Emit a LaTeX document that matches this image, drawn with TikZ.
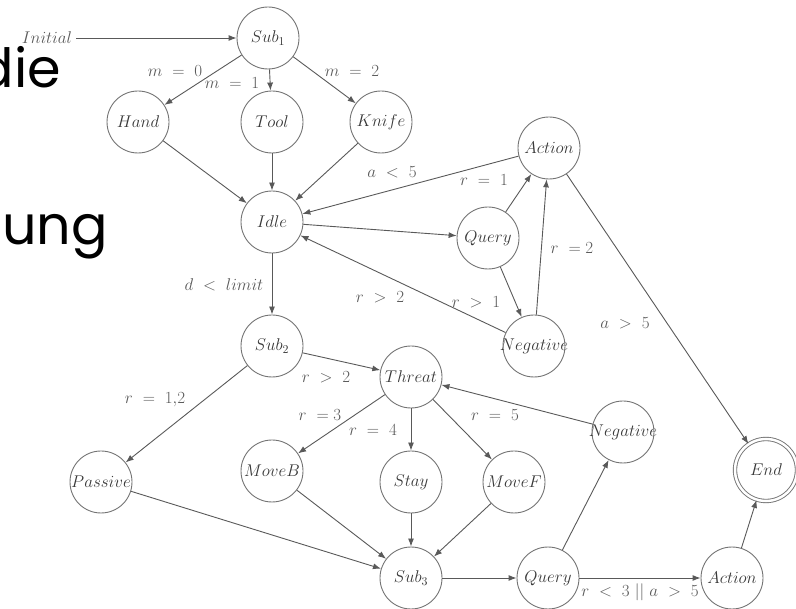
\documentclass[tikz,border=0pt]{standalone}
\usepackage{fix-cm}
\usepackage{fontspec}
\newfontfamily\bgfont{Poppins}
\usetikzlibrary{arrows.meta}
\newcommand\nlab[1]{\makebox[0pt]{$#1$}}
\begin{document}
\begin{tikzpicture}[x=1pt,y=-1pt,
  state/.style={circle, draw=black!55, line width=0.9pt, minimum size=62pt, inner sep=0pt, text=black!78, font=\fontsize{17}{20}\selectfont},
  fin/.style={state, double, double distance=2.5pt},
  edge/.style={draw=black!65, line width=0.9pt, -{Latex[length=8pt,width=6pt]}},
  lbl/.style={text=black!65, font=\fontsize{17}{20}\selectfont, inner sep=0pt},
  bg/.style={font=\bgfont\fontsize{54}{64}\selectfont, text=black, inner sep=0pt}
]
\useasboundingbox (0,0) rectangle (796,609);
% background words
\node[bg, anchor=base east] (bgdie) at (61,88) {die};
\node[bg, anchor=base east] (bgnung) at (108,245) {nung};
% states
\node[state] (sub1) at (268,38) {\nlab{Sub_1}};
\node[state] (hand) at (138,122) {\nlab{Hand}};
\node[state] (tool) at (272,122) {\nlab{Tool}};
\node[state] (knife) at (381,122) {\nlab{Knife}};
\node[state] (act1) at (549,148) {\nlab{Action}};
\node[state] (idle) at (272,222) {\nlab{Idle}};
\node[state] (qry1) at (488,238) {\nlab{Query}};
\node[state] (neg1) at (534,346) {\nlab{Negative}};
\node[state] (sub2) at (272,346) {\nlab{Sub_2}};
\node[state] (threat) at (411,377) {\nlab{Threat}};
\node[state] (neg2) at (623,432) {\nlab{Negative}};
\node[fin] (end) at (766,470) {\nlab{End}};
\node[state] (passive) at (101,482) {\nlab{Passive}};
\node[state] (moveb) at (272,471) {\nlab{MoveB}};
\node[state] (stay) at (411,482) {\nlab{Stay}};
\node[state] (movef) at (514,482) {\nlab{MoveF}};
\node[state] (sub3) at (411,578) {\nlab{Sub_3}};
\node[state] (qry2) at (548,578) {\nlab{Query}};
\node[state] (act2) at (732,578) {\nlab{Action}};
\node[lbl, inner sep=4pt] (init) at (47,38) {$Initial$};
% edges
\draw[edge] (init) -- (sub1);
\draw[edge] (sub1) -- (hand);
\draw[edge] (sub1) -- (tool);
\draw[edge] (sub1) -- (knife);
\draw[edge] (hand) -- (idle);
\draw[edge] (tool) -- (idle);
\draw[edge] (knife) -- (idle);
\draw[edge] (act1) -- (idle);
\draw[edge] (idle) -- (qry1);
\draw[edge] (qry1) -- (act1);
\draw[edge] (qry1) -- (neg1);
\draw[edge] (neg1) -- (act1);
\draw[edge] (neg1) -- (idle);
\draw[edge] (idle) -- (sub2);
\draw[edge] (act1) -- (end);
\draw[edge] (sub2) -- (threat);
\draw[edge] (sub2) -- (passive);
\draw[edge] (threat) -- (moveb);
\draw[edge] (threat) -- (stay);
\draw[edge] (threat) -- (movef);
\draw[edge] (passive) -- (sub3);
\draw[edge] (moveb) -- (sub3);
\draw[edge] (stay) -- (sub3);
\draw[edge] (movef) -- (sub3);
\draw[edge] (sub3) -- (qry2);
\draw[edge] (qry2) -- (neg2);
\draw[edge] (neg2) -- (threat);
\draw[edge] (qry2) -- (act2);
\draw[edge] (act2) -- (end);
% edge labels
\node[lbl] (lm0) at (175,71) {$m\ =\ 0$};
\node[lbl] (lm1) at (232,83) {$m\ =\ 1$};
\node[lbl] (lm2) at (352,71) {$m\ =\ 2$};
\node[lbl] (la5) at (392,172) {$a\ <\ 5$};
\node[lbl] (lr1) at (484,180) {$r\ =\ 1$};
\node[lbl] (lr2) at (572,248) {$r\ =2$};
\node[lbl] (lrg2) at (380,297) {$r\ >\ 2$};
\node[lbl] (lrg1) at (476,302) {$r\ >\ 1$};
\node[lbl] (ld) at (224,285) {$d\ <\ limit$};
\node[lbl] (lag5) at (625,323) {$a\ >\ 5$};
\node[lbl] (lrs2) at (326,377) {$r\ >\ 2$};
\node[lbl] (lr12) at (155,400) {$r\ =\ 1{,}2$};
\node[lbl] (lr3) at (320,415) {$r\ =3$};
\node[lbl] (lr4) at (373,430) {$r\ =\ 4$};
\node[lbl] (lr5) at (495,415) {$r\ =\ 5$};
\node[lbl] (lor) at (640,592) {$r\ <\ 3\ ||\ a\ >\ 5$};
\end{tikzpicture}
\end{document}
